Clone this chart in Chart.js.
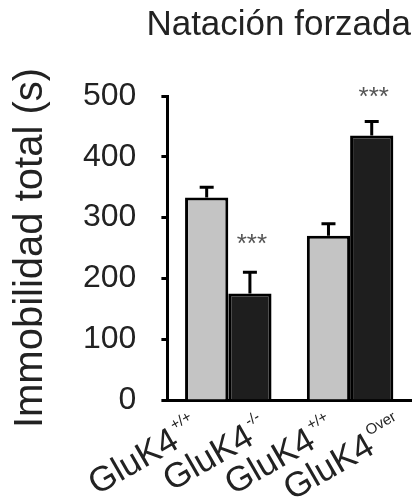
<!DOCTYPE html>
<html lang="es">
<head>
  <meta charset="UTF-8">
  <title>Natación forzada</title>
  <script src="https://cdn.jsdelivr.net/npm/chart.js"></script>
  <style>
    body {
      margin: 0;
      background: #ffffff;
    }
    .wrap {
      width: 416px;
      height: 497px;
    }
  </style>
</head>
<body>
  <div class="wrap"><canvas id="chart"></canvas></div>

  <script>
    // datos
    const groups = ['Grupo 1', 'Grupo 2'];
    const barNames = ['GluK4', 'GluK4', 'GluK4', 'GluK4'];
    const barSups = ['+/+', '-/-', '+/+', 'Over'];
    const meanValues = [333, 175, 270, 435];
    const semValues = [17, 35, 20, 23];
    const starText = ['', '***', '', '***'];
    const starValues = [null, 265, null, 507];
    const yTicks = [0, 100, 200, 300, 400, 500];

    const FONT = "'Liberation Sans', Arial, sans-serif";
    const INK = '#222222';

    // barra i -> dataset i % 2, índice floor(i / 2)
    const lightData = meanValues.filter((v, i) => i % 2 === 0);
    const darkData = meanValues.filter((v, i) => i % 2 === 1);

    const extras = {
      id: 'extras',
      afterDatasetsDraw(chart) {
        const ctx = chart.ctx;
        const y = chart.scales.y;
        const area = chart.chartArea;
        const w = area.right - area.left;
        ctx.save();
        for (let i = 0; i < meanValues.length; i++) {
          const el = chart.getDatasetMeta(i % 2).data[Math.floor(i / 2)];
          const top = y.getPixelForValue(meanValues[i] + semValues[i]);
          // barra de error (solo hacia arriba)
          ctx.strokeStyle = '#000';
          ctx.lineWidth = 3;
          ctx.beginPath();
          ctx.moveTo(el.x, el.y);
          ctx.lineTo(el.x, top);
          ctx.moveTo(el.x - 7, top);
          ctx.lineTo(el.x + 7, top);
          ctx.stroke();

          if (starText[i]) {
            ctx.fillStyle = '#555';
            ctx.font = '26px ' + FONT;
            ctx.textAlign = 'center';
            ctx.textBaseline = 'middle';
            ctx.fillText(starText[i], el.x + 2, y.getPixelForValue(starValues[i]) + 6);
          }

          // etiquetas del eje x, repartidas a lo largo del eje, con superíndice
          ctx.save();
          ctx.translate(area.left + w * (0.14 + 0.28 * i), y.bottom + 35);
          ctx.rotate(-30 * Math.PI / 180);
          ctx.fillStyle = INK;
          ctx.textBaseline = 'alphabetic';
          ctx.textAlign = 'left';
          ctx.font = '15px ' + FONT;
          const wSup = ctx.measureText(barSups[i]).width;
          ctx.font = '35px ' + FONT;
          const wMain = ctx.measureText(barNames[i]).width;
          ctx.fillText(barNames[i], -(wMain + 2 + wSup), 0);
          ctx.font = '15px ' + FONT;
          ctx.fillText(barSups[i], -wSup, -18);
          ctx.restore();
        }
        ctx.restore();
      }
    };

    new Chart(document.getElementById('chart'), {
      type: 'bar',
      data: {
        labels: groups,
        datasets: [{
          data: lightData,
          backgroundColor: '#c4c4c4',
          borderColor: '#000',
          borderWidth: 3,
          borderSkipped: 'bottom'
        }, {
          data: darkData,
          backgroundColor: '#1e1e1e',
          borderColor: '#000',
          borderWidth: 3,
          borderSkipped: 'bottom'
        }]
      },
      options: {
        responsive: true,
        maintainAspectRatio: false,
        animation: false,
        categoryPercentage: 0.71,
        barPercentage: 1,
        layout: {
          padding: { left: 7, right: 5, top: 0, bottom: 97 }
        },
        plugins: {
          legend: { display: false },
          tooltip: { enabled: false },
          title: {
            display: true,
            text: 'Natación forzada',
            align: 'end',
            color: INK,
            font: { family: FONT, size: 35, weight: 'normal' },
            padding: { top: 4, bottom: 50 }
          }
        },
        scales: {
          x: {
            grid: { display: false, drawTicks: false },
            border: { display: true, color: '#000', width: 3 },
            ticks: { display: false }
          },
          y: {
            min: 0,
            max: 500,
            afterBuildTicks(scale) {
              scale.ticks = yTicks.map(v => ({ value: v }));
            },
            grid: {
              display: true,
              drawOnChartArea: false,
              drawTicks: true,
              tickLength: 6,
              tickWidth: 3,
              tickColor: '#000'
            },
            border: { display: true, color: '#000', width: 3 },
            ticks: {
              color: INK,
              padding: 25,
              font: { family: FONT, size: 32 }
            },
            title: {
              display: true,
              text: 'Immobilidad total (s)',
              color: INK,
              font: { family: FONT, size: 40 },
              padding: { top: 0, bottom: 3 }
            }
          }
        }
      },
      plugins: [extras]
    });
  </script>
</body>
</html>
